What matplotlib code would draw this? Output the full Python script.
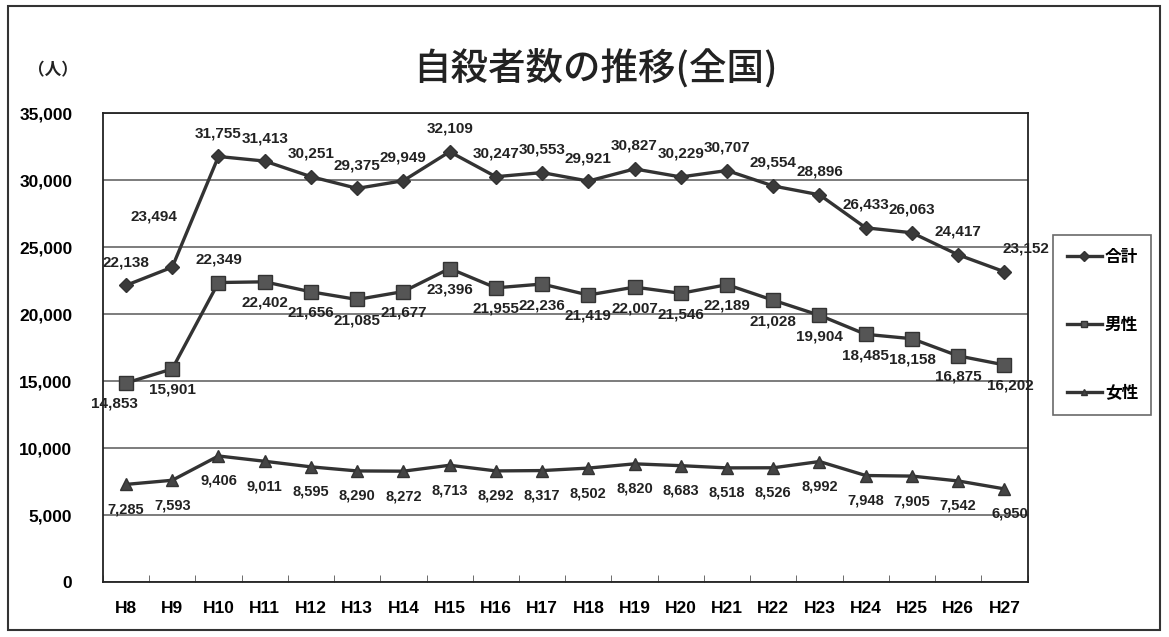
import matplotlib.pyplot as plt
from matplotlib.patches import Rectangle
from matplotlib.ticker import FuncFormatter
import numpy as np

plt.rcParams['font.family'] = ['Liberation Sans', 'Noto Sans CJK JP', 'DejaVu Sans']

# data (Heisei years)
years = ["H8", "H9", "H10", "H11", "H12", "H13", "H14", "H15", "H16", "H17",
         "H18", "H19", "H20", "H21", "H22", "H23", "H24", "H25", "H26", "H27"]
total = [22138, 23494, 31755, 31413, 30251, 29375, 29949, 32109, 30247, 30553,
         29921, 30827, 30229, 30707, 29554, 28896, 26433, 26063, 24417, 23152]
male = [14853, 15901, 22349, 22402, 21656, 21085, 21677, 23396, 21955, 22236,
        21419, 22007, 21546, 22189, 21028, 19904, 18485, 18158, 16875, 16202]
female = [7285, 7593, 9406, 9011, 8595, 8290, 8272, 8713, 8292, 8317,
          8502, 8820, 8683, 8518, 8526, 8992, 7948, 7905, 7542, 6950]

fig = plt.figure(figsize=(11.69, 6.37), dpi=100)
ax = fig.add_axes([0.088, 0.0863, 0.791, 0.7363])
x = np.arange(len(years))

col = '#333333'
ax.plot(x, total, color=col, lw=2.4, marker='D', ms=7, mfc='#3a3a3a', mec=col, label='合計', zorder=3)
ax.plot(x, male, color=col, lw=2.4, marker='s', ms=10, mfc='#555555', mec=col, label='男性', zorder=3)
ax.plot(x, female, color=col, lw=2.4, marker='^', ms=9, mfc='#444444', mec=col, label='女性', zorder=3)

def fmt(v):
    return f"{v:,}"

# data labels (offsets in pixels; a few moved like in the original)
for i, v in enumerate(total):
    dx, dy = 0, 16
    if i == 1:
        dx, dy = -18, 44
    if i == 19:
        dx, dy = 22, 16
    ax.annotate(fmt(v), (x[i], v), xytext=(dx, dy), textcoords='offset pixels',
                ha='center', va='bottom', fontsize=11, fontweight='bold', color='#222222')

for i, v in enumerate(male):
    dx, dy, va = 0, -14, 'top'
    if i == 0:
        dx = -12
    if i == 2:
        dy, va = 16, 'bottom'
    if i == 19:
        dx = 6
    ax.annotate(fmt(v), (x[i], v), xytext=(dx, dy), textcoords='offset pixels',
                ha='center', va=va, fontsize=11, fontweight='bold', color='#222222')

for i, v in enumerate(female):
    dx = 0
    if i == 19:
        dx = 5
    ax.annotate(fmt(v), (x[i], v), xytext=(dx, -18), textcoords='offset pixels',
                ha='center', va='top', fontsize=10.5, fontweight='bold', color='#222222')

ax.set_xlim(-0.5, len(years) - 0.5)
ax.set_ylim(0, 35000)
ax.set_yticks(np.arange(0, 35001, 5000))
ax.yaxis.set_major_formatter(FuncFormatter(lambda v, p: f"{int(v):,}"))
ax.set_xticks(x)
ax.set_xticklabels(years)
ax.set_xticks(np.arange(-0.5, len(years), 1), minor=True)
ax.tick_params(axis='x', which='major', length=0, pad=14, labelsize=12.5)
ax.tick_params(axis='x', which='minor', length=5, direction='in', color='#555555')
ax.tick_params(axis='y', length=0, pad=22, labelsize=12.5)
for lab in ax.get_xticklabels() + ax.get_yticklabels():
    lab.set_fontweight('bold')
ax.grid(axis='y', color='#666666', lw=1.2)
for s in ax.spines.values():
    s.set_color('#222222')
    s.set_linewidth(1.3)

leg = fig.legend(loc='center', bbox_to_anchor=(0.943, 0.49), frameon=True, fancybox=False,
                 edgecolor='#444444', labelspacing=3.0, handlelength=2.1,
                 borderpad=0.8, handletextpad=0.2, borderaxespad=0,
                 prop={'family': ['Noto Sans CJK JP'], 'weight': 'bold', 'size': 12})
leg.get_frame().set_linewidth(1.2)
for h in leg.legend_handles:
    h.set_markersize(5)

fig.text(0.509, 0.893, "自殺者数の推移(全国)", ha='center', va='center', fontsize=27,
         fontweight='medium', color='#222222', family=['Noto Sans CJK JP'])
fig.text(0.045, 0.89, "（人）", ha='center', va='center', fontsize=12, fontweight='bold',
         color='#222222', family=['Noto Sans CJK JP'])

# outer frame around the whole chart
fig.patches.append(Rectangle((0.007, 0.011), 0.985, 0.98, transform=fig.transFigure,
                             fill=False, edgecolor='#333333', lw=1.5))

fig.savefig("out.png", dpi=100)
